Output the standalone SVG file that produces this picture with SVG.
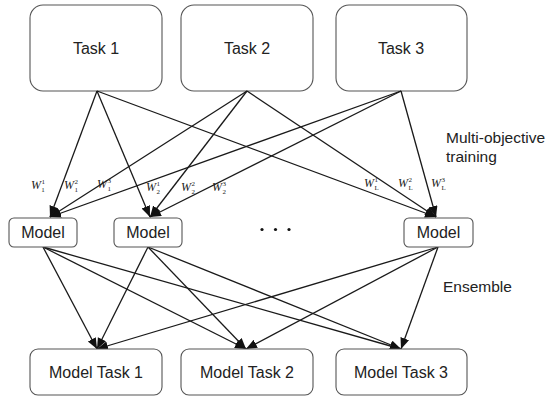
<svg xmlns="http://www.w3.org/2000/svg" width="557" height="397" viewBox="0 0 557 397">
  <defs>
    <marker id="arrow" markerUnits="userSpaceOnUse" markerWidth="12" markerHeight="10" refX="11" refY="4.5" orient="auto">
      <path d="M0,0 L11,4.5 L0,9 z" fill="#111"/>
    </marker>
    <style>
      .box { fill: #fff; stroke: #555; stroke-width: 1.1; }
      .lbl { font-family: "Liberation Sans", Arial, sans-serif; font-size: 16px; fill: #222; text-anchor: middle; }
      .note { font-family: "Liberation Sans", Arial, sans-serif; font-size: 15.5px; fill: #222; }
      .edge { stroke: #1a1a1a; stroke-width: 1.3; fill: none; marker-end: url(#arrow); }
      .w { font-family: "Liberation Serif", "Times New Roman", serif; font-style: italic; font-size: 12px; fill: #222; }
      .w tspan.s { font-size: 7px; font-style: normal; }
    </style>
  </defs>

  <!-- task nodes -->
  <g id="task1"><rect class="box" x="30" y="5" width="132" height="86" rx="13"/><text class="lbl" x="96" y="54">Task 1</text></g>
  <g id="task2"><rect class="box" x="181" y="5" width="132" height="86" rx="13"/><text class="lbl" x="247" y="54">Task 2</text></g>
  <g id="task3"><rect class="box" x="336" y="5" width="131" height="86" rx="13"/><text class="lbl" x="401" y="54">Task 3</text></g>

  <!-- connectors -->
  <g id="connectors">
    <!-- multi-objective training -->
    <line class="edge" x1="97" y1="91" x2="50" y2="217"/>
    <line class="edge" x1="97" y1="91" x2="150" y2="217"/>
    <line class="edge" x1="97" y1="91" x2="436" y2="217"/>
    <line class="edge" x1="247" y1="91" x2="50" y2="217"/>
    <line class="edge" x1="247" y1="91" x2="150" y2="217"/>
    <line class="edge" x1="247" y1="91" x2="436" y2="217"/>
    <line class="edge" x1="401" y1="91" x2="50" y2="217"/>
    <line class="edge" x1="401" y1="91" x2="150" y2="217"/>
    <line class="edge" x1="401" y1="91" x2="436" y2="217"/>
    <!-- ensemble -->
    <line class="edge" x1="43" y1="247" x2="97" y2="349"/>
    <line class="edge" x1="43" y1="247" x2="246" y2="349"/>
    <line class="edge" x1="43" y1="247" x2="401" y2="349"/>
    <line class="edge" x1="148" y1="247" x2="97" y2="349"/>
    <line class="edge" x1="148" y1="247" x2="246" y2="349"/>
    <line class="edge" x1="148" y1="247" x2="401" y2="349"/>
    <line class="edge" x1="438" y1="247" x2="97" y2="349"/>
    <line class="edge" x1="438" y1="247" x2="246" y2="349"/>
    <line class="edge" x1="438" y1="247" x2="401" y2="349"/>
  </g>

  <!-- weight labels -->
  <g id="weights">
    <text class="w" x="31" y="189">W<tspan class="s" dx="0.5" dy="-5">1</tspan><tspan class="s" dx="-3.5" dy="7.5">1</tspan></text>
    <text class="w" x="64" y="189">W<tspan class="s" dx="0.5" dy="-5">2</tspan><tspan class="s" dx="-3.5" dy="7.5">1</tspan></text>
    <text class="w" x="97" y="188">W<tspan class="s" dx="0.5" dy="-5">3</tspan><tspan class="s" dx="-3.5" dy="7.5">1</tspan></text>
    <text class="w" x="146" y="191">W<tspan class="s" dx="0.5" dy="-5">1</tspan><tspan class="s" dx="-3.5" dy="7.5">2</tspan></text>
    <text class="w" x="181" y="191">W<tspan class="s" dx="0.5" dy="-5">2</tspan><tspan class="s" dx="-3.5" dy="7.5">2</tspan></text>
    <text class="w" x="212" y="191">W<tspan class="s" dx="0.5" dy="-5">3</tspan><tspan class="s" dx="-3.5" dy="7.5">2</tspan></text>
    <text class="w" x="364" y="187">W<tspan class="s" dx="0.5" dy="-5">1</tspan><tspan class="s" dx="-3.5" dy="7.5" font-style="italic">L</tspan></text>
    <text class="w" x="398" y="187">W<tspan class="s" dx="0.5" dy="-5">2</tspan><tspan class="s" dx="-3.5" dy="7.5" font-style="italic">L</tspan></text>
    <text class="w" x="431" y="187">W<tspan class="s" dx="0.5" dy="-5">3</tspan><tspan class="s" dx="-3.5" dy="7.5" font-style="italic">L</tspan></text>
  </g>

  <!-- model nodes -->
  <g id="model1"><rect class="box" x="9" y="218" width="68" height="29" rx="5"/><text class="lbl" x="43" y="238">Model</text></g>
  <g id="model2"><rect class="box" x="114" y="218" width="68" height="29" rx="5"/><text class="lbl" x="148" y="238">Model</text></g>
  <g id="model3"><rect class="box" x="404" y="218" width="69" height="29" rx="5"/><text class="lbl" x="438.5" y="238">Model</text></g>

  <!-- ellipsis between models -->
  <g id="ellipsis" fill="#111">
    <circle cx="262" cy="229.5" r="1.6"/>
    <circle cx="275.5" cy="229.5" r="1.6"/>
    <circle cx="289" cy="229.5" r="1.6"/>
  </g>

  <!-- ensemble outputs -->
  <g id="modelTask1"><rect class="box" x="30" y="349" width="132" height="46" rx="8"/><text class="lbl" x="96" y="378">Model Task 1</text></g>
  <g id="modelTask2"><rect class="box" x="181" y="349" width="132" height="46" rx="8"/><text class="lbl" x="247" y="378">Model Task 2</text></g>
  <g id="modelTask3"><rect class="box" x="336" y="349" width="131" height="46" rx="8"/><text class="lbl" x="401" y="378">Model Task 3</text></g>

  <!-- stage notes -->
  <g id="notes">
    <text class="note" x="446" y="143">Multi-objective</text>
    <text class="note" x="446" y="162">training</text>
    <text class="note" x="443" y="292">Ensemble</text>
  </g>
</svg>
